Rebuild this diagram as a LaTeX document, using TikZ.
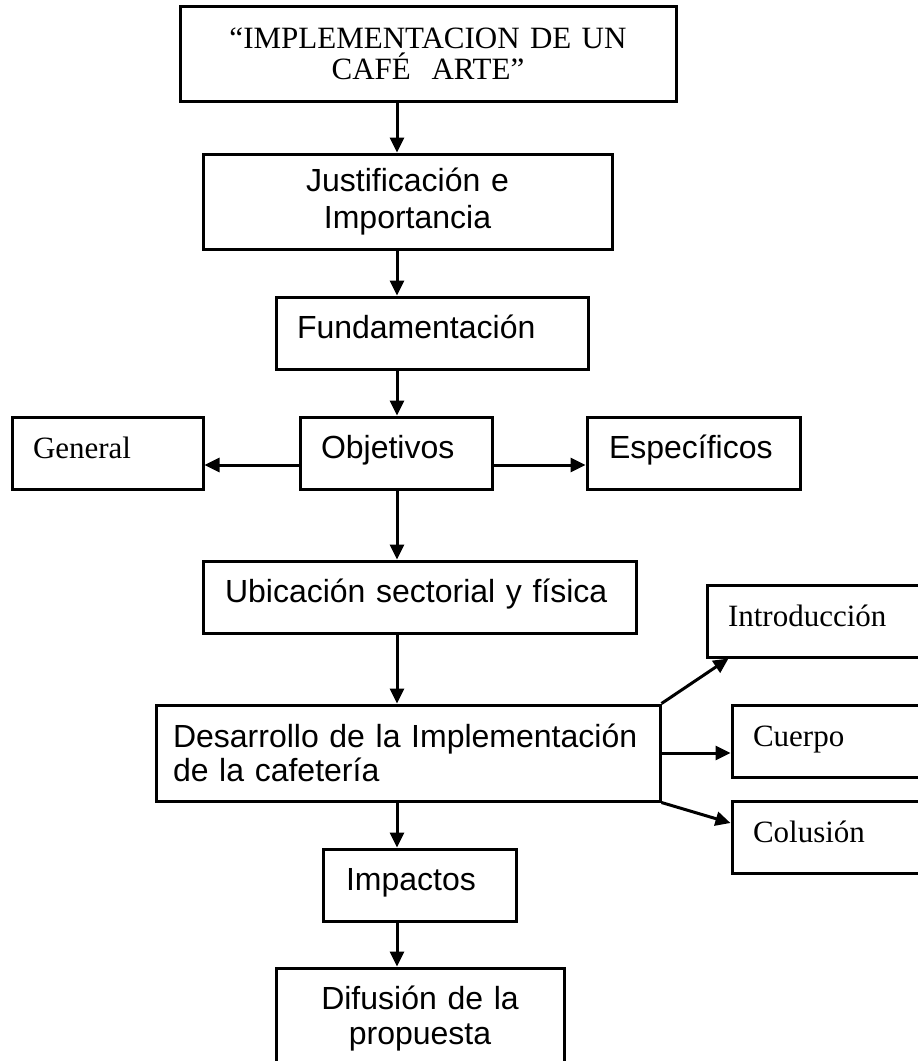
\documentclass[tikz,border=0pt]{standalone}
\usepackage{fontspec}
\setmainfont{Liberation Serif}
\newfontfamily\arialfam{Liberation Sans}
\usetikzlibrary{arrows.meta}
\begin{document}
\begin{tikzpicture}[x=1pt,y=-1pt,
  box/.style={draw=black, line width=3pt, rectangle, inner ysep=0pt, anchor=center},
  oneline/.style={text height=20pt, text depth=10pt},
  sansf/.style={font=\arialfam\fontsize{32}{37}\selectfont},
  seriff/.style={font=\fontsize{31}{36}\selectfont},
  arr/.style={line width=3pt, -{Triangle[length=15pt,width=14pt]}}]
\useasboundingbox (0,0) rectangle (918,1061);
\coordinate (sp) at (397,0);
% boxes
\node[box, font=\fontsize{31}{31}\selectfont, minimum width=496pt, minimum height=95pt, inner xsep=10pt, text width=476pt, align=center] (title) at (428,54) {“IMPLEMENTACION DE UN\\CAFÉ\ \ ARTE”};
\node[box, sansf, minimum width=409pt, minimum height=95pt, inner xsep=10pt, text width=389pt, align=center] (just) at (407.5,201.5) {Justificación e\\Importancia};
\node[box, sansf, oneline, minimum width=312pt, minimum height=72pt, inner xsep=21pt, text width=270pt, align=left] (fund) at (432,333) {Fundamentación};
\node[box, sansf, oneline, minimum width=192pt, minimum height=72pt, inner xsep=21pt, text width=150pt, align=left] (obj) at (396,453) {Objetivos};
\node[box, seriff, oneline, minimum width=191pt, minimum height=72pt, inner xsep=21pt, text width=149pt, align=left] (gen) at (107.5,453) {General};
\node[box, sansf, oneline, minimum width=213pt, minimum height=72pt, inner xsep=22pt, text width=169pt, align=left] (espec) at (693.5,453) {Específicos};
\node[box, sansf, oneline, minimum width=433pt, minimum height=72pt, inner xsep=22pt, text width=389pt, align=left] (ubic) at (419.5,597) {Ubicación sectorial y física};
\node[box, font=\arialfam\fontsize{32}{34}\selectfont, minimum width=504pt, minimum height=96pt, inner xsep=17pt, text width=470pt, align=left] (des) at (408,753) {Desarrollo de la Implementación\\de la cafetería};
\node[box, seriff, oneline, minimum width=233pt, minimum height=72pt, inner xsep=21pt, text width=191pt, align=left] (intro) at (823.5,621) {Introducción};
\node[box, seriff, oneline, minimum width=208pt, minimum height=72pt, inner xsep=21pt, text width=166pt, align=left] (cuerpo) at (836,741) {Cuerpo};
\node[box, seriff, oneline, minimum width=208pt, minimum height=72pt, inner xsep=21pt, text width=166pt, align=left] (col) at (836,837) {Colusión};
\node[box, sansf, oneline, minimum width=193pt, minimum height=72pt, inner xsep=23pt, text width=147pt, align=left] (imp) at (419.5,885) {Impactos};
\node[box, font=\arialfam\fontsize{32}{35}\selectfont, minimum width=288pt, minimum height=102pt, inner xsep=10pt, text width=268pt, align=center] (dif) at (420,1019) {Difusión de la\\propuesta};
% connectors
\draw[arr] (title.south -| sp) -- (just.north -| sp);
\draw[arr] (just.south -| sp) -- (fund.north -| sp);
\draw[arr] (fund.south -| sp) -- (obj.north -| sp);
\draw[arr] (obj.south -| sp) -- (ubic.north -| sp);
\draw[arr] (ubic.south -| sp) -- (des.north -| sp);
\draw[arr] (des.south -| sp) -- (imp.north -| sp);
\draw[arr] (imp.south -| sp) -- (dif.north -| sp);
\draw[arr] ([yshift=-12pt]obj.west) -- ([yshift=-12pt]obj.west -| gen.east);
\draw[arr] ([yshift=-12pt]obj.east) -- ([yshift=-12pt]obj.east -| espec.west);
\draw[arr] (des.north east) -- ([xshift=23pt]intro.south west);
\draw[arr] (des.east) -- (des.east -| cuerpo.west);
\draw[arr] (des.south east) -- ([yshift=14pt]col.west);
\end{tikzpicture}
\end{document}
